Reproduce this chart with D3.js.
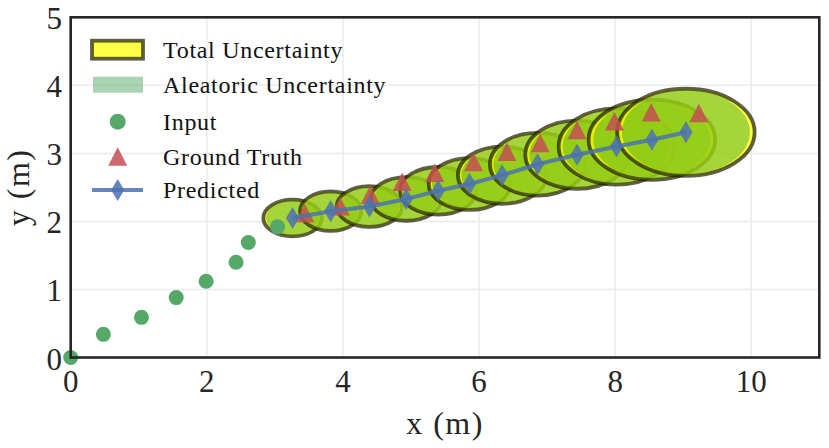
<!DOCTYPE html>
<html>
<head>
<meta charset="utf-8">
<script src="https://cdn.jsdelivr.net/npm/d3@7"></script>
<style>
  body { margin: 0; background: #fff; }
  svg { display: block; font-family: "Liberation Serif", "DejaVu Serif", serif; }
</style>
</head>
<body>
<div id="chart"></div>
<script>
// observed history
var inputX = [0, 0.48, 1.04, 1.55, 1.99, 2.43, 2.61, 3.04];
var inputY = [0, 0.34, 0.59, 0.88, 1.12, 1.40, 1.69, 1.92];

// future steps
var truthX = [3.44, 3.96, 4.40, 4.87, 5.35, 5.92, 6.41, 6.90, 7.44, 7.99, 8.53, 9.23];
var truthY = [2.12, 2.22, 2.39, 2.58, 2.71, 2.87, 3.02, 3.15, 3.34, 3.47, 3.60, 3.59];
var predX = [3.26, 3.82, 4.39, 4.93, 5.40, 5.86, 6.34, 6.86, 7.44, 8.02, 8.54, 9.04];
var predY = [2.05, 2.15, 2.22, 2.33, 2.45, 2.55, 2.68, 2.84, 2.98, 3.10, 3.20, 3.31];

// ellipse semi-axes (m)
var totalRx = [0.43, 0.45, 0.48, 0.52, 0.56, 0.60, 0.65, 0.70, 0.76, 0.85, 0.93, 1.01];
var totalRy = [0.27, 0.29, 0.30, 0.32, 0.35, 0.38, 0.42, 0.46, 0.50, 0.56, 0.59, 0.64];
var aleaRx = [0.39, 0.41, 0.44, 0.48, 0.52, 0.55, 0.60, 0.65, 0.70, 0.79, 0.86, 0.94];
var aleaRy = [0.25, 0.27, 0.28, 0.30, 0.33, 0.36, 0.40, 0.44, 0.48, 0.54, 0.57, 0.62];

var xTicks = [0, 2, 4, 6, 8, 10];
var yTicks = [0, 1, 2, 3, 4, 5];
var legendLabels = ["Total Uncertainty", "Aleatoric Uncertainty", "Input", "Ground Truth", "Predicted"];

var width = 829, height = 448;
var blue = "#4c72b0", green = "#55a868", red = "#c44e52";
var aleaColor = "#2a9a2a";

var x = d3.scaleLinear().domain([0, 11]).range([70.7, 819.3]);
var y = d3.scaleLinear().domain([0, 5]).range([357.5, 17.3]);

var svg = d3.select("#chart").append("svg")
  .attr("width", width)
  .attr("height", height);

// grid
var grid = svg.append("g");
grid.selectAll("line.gx")
  .data(xTicks.slice(1))
  .enter().append("line")
  .attr("x1", d => x(d)).attr("x2", d => x(d))
  .attr("y1", y(0)).attr("y2", y(5))
  .attr("stroke", "#ebebeb").attr("stroke-width", 1.5);
grid.selectAll("line.gy")
  .data(yTicks.slice(1, -1))
  .enter().append("line")
  .attr("y1", d => y(d)).attr("y2", d => y(d))
  .attr("x1", x(0)).attr("x2", x(11))
  .attr("stroke", "#ebebeb").attr("stroke-width", 1.5);

// uncertainty ellipses, total then aleatoric for each step
var ell = svg.append("g");
predX.forEach(function(px, i) {
  var cx = x(px), cy = y(predY[i]);
  ell.append("ellipse")
    .attr("cx", cx).attr("cy", cy)
    .attr("rx", x(px + totalRx[i]) - cx)
    .attr("ry", cy - y(predY[i] + totalRy[i]))
    .attr("fill", "#ffff00").attr("fill-opacity", 0.72)
    .attr("stroke", "#1a1a00").attr("stroke-opacity", 0.7)
    .attr("stroke-width", 3.8);
  ell.append("ellipse")
    .attr("cx", cx).attr("cy", cy)
    .attr("rx", x(px + aleaRx[i]) - cx)
    .attr("ry", cy - y(predY[i] + aleaRy[i]))
    .attr("fill", aleaColor).attr("fill-opacity", 0.42);
});

// input points
svg.append("g").selectAll("circle")
  .data(inputX)
  .enter().append("circle")
  .attr("cx", d => x(d))
  .attr("cy", (d, i) => y(inputY[i]))
  .attr("r", 7.5)
  .attr("fill", green);

var tri = "M0,-9.5L9.5,9L-9.5,9Z";
var diamond = "M0,-11L6.6,0L0,11L-6.6,0Z";

// ground truth
svg.append("g").selectAll("path")
  .data(truthX)
  .enter().append("path")
  .attr("d", tri)
  .attr("transform", (d, i) => "translate(" + x(d) + "," + y(truthY[i]) + ")")
  .attr("fill", red).attr("fill-opacity", 0.85);

// predicted
var line = d3.line().x(d => x(d[0])).y(d => y(d[1]));
svg.append("path")
  .datum(predX.map((d, i) => [d, predY[i]]))
  .attr("d", line)
  .attr("fill", "none")
  .attr("stroke", blue).attr("stroke-opacity", 0.85)
  .attr("stroke-width", 4);
svg.append("g").selectAll("path")
  .data(predX)
  .enter().append("path")
  .attr("d", diamond)
  .attr("transform", (d, i) => "translate(" + x(d) + "," + y(predY[i]) + ")")
  .attr("fill", blue).attr("fill-opacity", 0.85);

// frame
svg.append("rect")
  .attr("x", x(0)).attr("y", y(5))
  .attr("width", x(11) - x(0)).attr("height", y(0) - y(5))
  .attr("fill", "none").attr("stroke", "#262626").attr("stroke-width", 2.6);

// tick labels
svg.append("g").selectAll("text")
  .data(xTicks)
  .enter().append("text")
  .attr("x", d => x(d)).attr("y", 392)
  .attr("text-anchor", "middle")
  .attr("font-size", 31).attr("fill", "#262626")
  .text(d => d);
svg.append("g").selectAll("text")
  .data(yTicks)
  .enter().append("text")
  .attr("x", 62).attr("y", d => y(d) + 12)
  .attr("text-anchor", "end")
  .attr("font-size", 31).attr("fill", "#262626")
  .text(d => d);

// axis labels
svg.append("text")
  .attr("x", (x(0) + x(11)) / 2).attr("y", 434)
  .attr("text-anchor", "middle")
  .attr("font-size", 32).attr("letter-spacing", 1.5)
  .attr("fill", "#262626")
  .text("x (m)");
svg.append("text")
  .attr("transform", "translate(29," + (y(0) + y(5)) / 2 + ") rotate(-90)")
  .attr("text-anchor", "middle")
  .attr("font-size", 32).attr("letter-spacing", 1.5)
  .attr("fill", "#262626")
  .text("y (m)");

// legend
var lg = svg.append("g");
var rowY = [49.7, 84.7, 121.7, 156.7, 190];
lg.append("rect")
  .attr("x", 92).attr("y", rowY[0] - 9).attr("width", 51).attr("height", 18)
  .attr("fill", "#ffff00").attr("fill-opacity", 0.72)
  .attr("stroke", "#1a1a00").attr("stroke-opacity", 0.7).attr("stroke-width", 3.8);
lg.append("rect")
  .attr("x", 93).attr("y", rowY[1] - 8).attr("width", 50).attr("height", 16)
  .attr("fill", green).attr("fill-opacity", 0.5);
lg.append("circle")
  .attr("cx", 117.7).attr("cy", rowY[2]).attr("r", 8)
  .attr("fill", green);
lg.append("path")
  .attr("d", tri)
  .attr("transform", "translate(117.7," + rowY[3] + ")")
  .attr("fill", red).attr("fill-opacity", 0.85);
lg.append("line")
  .attr("x1", 92).attr("x2", 143).attr("y1", rowY[4]).attr("y2", rowY[4])
  .attr("stroke", blue).attr("stroke-opacity", 0.85).attr("stroke-width", 4);
lg.append("path")
  .attr("d", diamond)
  .attr("transform", "translate(117.7," + rowY[4] + ")")
  .attr("fill", blue).attr("fill-opacity", 0.85);
lg.selectAll("text")
  .data(legendLabels)
  .enter().append("text")
  .attr("x", 163).attr("y", (d, i) => rowY[i] + 8)
  .attr("font-size", 24).attr("letter-spacing", 0.7)
  .attr("fill", "#111")
  .text(d => d);
</script>
</body>
</html>
